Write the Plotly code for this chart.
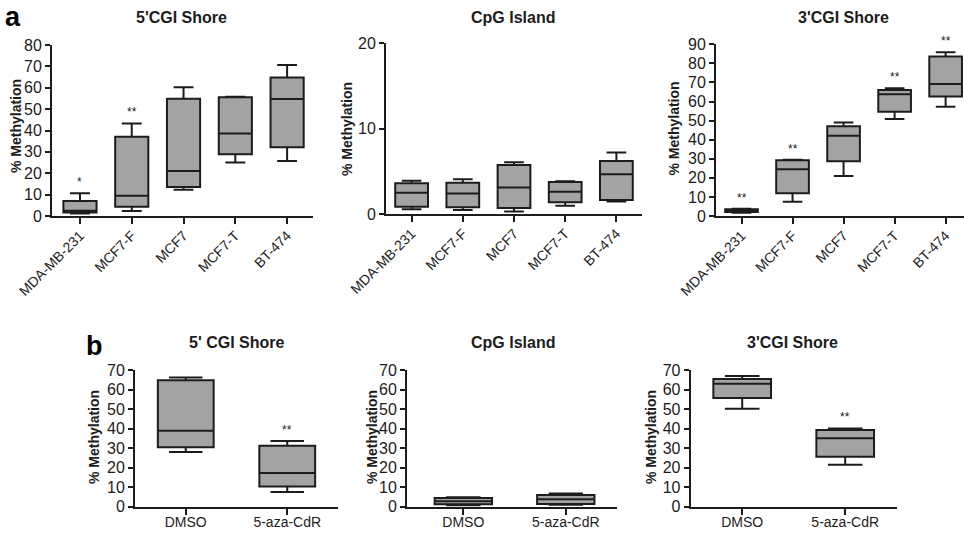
import plotly.graph_objects as go

# ---------------- data ----------------
cells = ["MDA-MB-231", "MCF7-F", "MCF7", "MCF7-T", "BT-474"]

shore5_min = [1.2, 2.3, 12.3, 25.0, 25.7]
shore5_q1 = [1.6, 4.3, 13.6, 28.9, 32.2]
shore5_med = [2.5, 9.5, 21.1, 38.6, 54.7]
shore5_q3 = [7.0, 37.1, 54.8, 55.5, 64.8]
shore5_max = [10.6, 43.3, 60.2, 55.8, 70.7]
shore5_sig = ["*", "**", "", "", ""]

cpg_min = [0.55, 0.47, 0.3, 0.98, 1.45]
cpg_q1 = [0.86, 0.78, 0.7, 1.37, 1.64]
cpg_med = [2.5, 2.4, 3.1, 2.6, 4.65]
cpg_q3 = [3.6, 3.67, 5.74, 3.75, 6.2]
cpg_max = [3.9, 4.06, 6.05, 3.85, 7.2]
cpg_sig = ["", "", "", "", ""]

shore3_min = [1.7, 7.5, 21.0, 50.9, 57.3]
shore3_q1 = [2.1, 11.9, 28.7, 54.7, 62.6]
shore3_med = [2.8, 24.5, 42.1, 63.8, 69.2]
shore3_q3 = [3.5, 29.2, 47.0, 66.1, 83.6]
shore3_max = [3.8, 29.5, 49.0, 67.0, 85.8]
shore3_sig = ["**", "**", "", "**", "**"]

treatments = ["DMSO", "5-aza-CdR"]

t5_min = [28.0, 7.5]
t5_q1 = [30.5, 10.4]
t5_med = [38.9, 17.2]
t5_q3 = [64.7, 31.2]
t5_max = [66.1, 33.6]
t5_sig = ["", "**"]

tcpg_min = [0.8, 1.0]
tcpg_q1 = [1.2, 1.4]
tcpg_med = [2.8, 3.8]
tcpg_q3 = [4.4, 6.0]
tcpg_max = [4.9, 6.7]
tcpg_sig = ["", ""]

t3_min = [50.2, 21.5]
t3_q1 = [55.7, 25.6]
t3_med = [63.0, 35.0]
t3_q3 = [65.4, 39.3]
t3_max = [66.9, 40.1]
t3_sig = ["", "**"]

W, H = 964, 534
FONT = "Liberation Sans, Arial, sans-serif"
INK = "#1c1c1c"
FILL = "#a3a3a3"

def px(x):
    return x / W

def py(y):
    return 1 - y / H

# (cats, min, q1, med, q3, max, sig, title, x-domain px, y-domain px (bottom, top),
#  y range, x range, box width, rotated labels, title x, title y, ytitle x, ytitle y)
panels = [
    (cells, shore5_min, shore5_q1, shore5_med, shore5_q3, shore5_max, shore5_sig,
     "5'CGI Shore", (52, 313), (216, 45), [0, 80], [-0.54, 4.5], 0.64, True, 181, 17.5, 16, 126),
    (cells, cpg_min, cpg_q1, cpg_med, cpg_q3, cpg_max, cpg_sig,
     "CpG Island", (386, 642), (214, 43.3), [0, 20], [-0.5, 4.5], 0.64, True, 513, 17.5, 347, 129),
    (cells, shore3_min, shore3_q1, shore3_med, shore3_q3, shore3_max, shore3_sig,
     "3'CGI Shore", (716, 964), (216, 44.3), [0, 90], [-0.5, 4.36], 0.64, True, 843, 17.5, 673, 128.5),
    (treatments, t5_min, t5_q1, t5_med, t5_q3, t5_max, t5_sig,
     "5' CGI Shore", (135, 338), (506.7, 370), [0, 70], [-0.5, 1.5], 0.55, False, 236, 342, 94, 437),
    (treatments, tcpg_min, tcpg_q1, tcpg_med, tcpg_q3, tcpg_max, tcpg_sig,
     "CpG Island", (407, 617), (506.7, 370), [0, 70], [-0.55, 1.5], 0.56, False, 513, 342, 372, 437),
    (treatments, t3_min, t3_q1, t3_med, t3_q3, t3_max, t3_sig,
     "3'CGI Shore", (690.7, 896.7), (506.7, 370), [0, 70], [-0.5, 1.5], 0.56, False, 792, 342, 651, 437),
]

fig = go.Figure()
layout = dict(
    width=W, height=H, margin=dict(l=0, r=0, t=0, b=0, autoexpand=False),
    paper_bgcolor="white", plot_bgcolor="white", showlegend=False,
    font=dict(family=FONT, color=INK),
)
annotations = []

for i, (cats, mn, q1, med, q3, mx, sig, title, xd, yd, yr, xr, bw, rot, tx, ty, ytx, yty) in enumerate(panels):
    n = "" if i == 0 else str(i + 1)
    fig.add_trace(go.Box(
        x=cats, q1=q1, median=med, q3=q3, lowerfence=mn, upperfence=mx,
        width=bw, whiskerwidth=0.6, boxpoints=False,
        fillcolor=FILL, line=dict(color=INK, width=2),
        xaxis="x" + n, yaxis="y" + n, hoverinfo="skip",
    ))
    layout["xaxis" + n] = dict(
        domain=[px(xd[0]), px(xd[1])], anchor="y" + n, type="category",
        range=xr, showline=True, linecolor=INK, linewidth=2,
        ticks="outside", ticklen=6, tickwidth=2, tickcolor=INK,
        tickangle=-45 if rot else 0, showgrid=False, zeroline=False,
        ticklabelstandoff=-2 if rot else -5,
        tickfont=dict(size=14, color=INK, family=FONT),
        fixedrange=True, automargin=False,
    )
    layout["yaxis" + n] = dict(
        domain=[py(yd[0]), py(yd[1])], anchor="x" + n,
        range=yr, dtick=10, showline=True, linecolor=INK, linewidth=2,
        ticks="outside", ticklen=5, tickwidth=2, tickcolor=INK,
        showgrid=False, zeroline=False, automargin=False,
        tickfont=dict(size=16, color=INK, family=FONT), fixedrange=True,
    )
    annotations.append(dict(
        text="<b>" + title + "</b>", x=px(tx), y=py(ty), xref="paper", yref="paper",
        xanchor="center", yanchor="middle", showarrow=False,
        font=dict(size=16, color=INK, family=FONT),
    ))
    annotations.append(dict(
        text="<b>% Methylation</b>", x=px(ytx), y=py(yty),
        xref="paper", yref="paper", xanchor="center", yanchor="middle",
        textangle=-90, showarrow=False, font=dict(size=14, color=INK, family=FONT),
    ))
    for c, s, m in zip(cats, sig, mx):
        if s:
            annotations.append(dict(
                text=s, x=c, y=m, xref="x" + n, yref="y" + n,
                xanchor="center", yanchor="bottom", yshift=2, showarrow=False,
                font=dict(size=12, color=INK, family=FONT),
            ))

annotations.append(dict(text="<b>a</b>", x=px(4), y=py(16.5), xref="paper", yref="paper",
                        xanchor="left", yanchor="middle", showarrow=False, borderpad=0,
                        font=dict(size=27, color="black", family=FONT)))
annotations.append(dict(text="<b>b</b>", x=px(85), y=py(346), xref="paper", yref="paper",
                        xanchor="left", yanchor="middle", showarrow=False, borderpad=0,
                        font=dict(size=27, color="black", family=FONT)))

layout["annotations"] = annotations
fig.update_layout(**layout)
fig.write_html(
    "out.html",
    config={"displayModeBar": False},
    post_script="document.body.style.margin='0';document.body.style.overflow='hidden';",
)
